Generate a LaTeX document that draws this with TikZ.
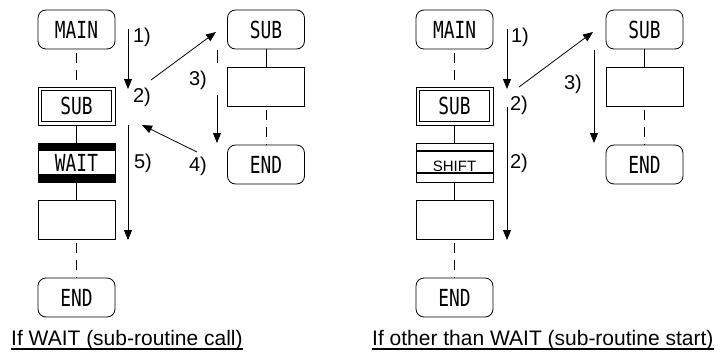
\documentclass[tikz,border=0pt]{standalone}
\usepackage{fontspec}
\setmainfont{Liberation Sans}
\newfontfamily\boxfont[FakeStretch=0.76]{DejaVu Sans Mono}
\usetikzlibrary{positioning,arrows.meta}

\begin{document}
\begin{tikzpicture}[x=1pt,y=-1pt,
  node distance=18pt,
  box/.style={draw,line width=0.8pt,inner sep=0pt,outer sep=0pt,
              minimum width=77pt,minimum height=39pt,
              font=\boxfont\fontsize{23.5}{23.5}\selectfont},
  term/.style={box,rounded corners=8pt},
  subcall/.style={box,minimum height=38pt,path picture={
      \draw[line width=0.8pt] ([shift={(3.5pt,-3.5pt)}]path picture bounding box.north west) rectangle ([shift={(-3.5pt,3.5pt)}]path picture bounding box.south east);}},
  waitbox/.style={box,path picture={
      \fill (path picture bounding box.north west) rectangle ([yshift=-8pt]path picture bounding box.north east);
      \fill ([yshift=8pt]path picture bounding box.south west) rectangle (path picture bounding box.south east);}},
  shiftbox/.style={box,font=\fontsize{15}{15}\selectfont,text height=17.5pt,path picture={
      \draw[line width=1.2pt] ([yshift=-8pt]path picture bounding box.north west) -- ([yshift=-8pt]path picture bounding box.north east);
      \draw[line width=1.2pt] ([yshift=9pt]path picture bounding box.south west) -- ([yshift=9pt]path picture bounding box.south east);}},
  link/.style={line width=0.8pt},
  dlink/.style={link,dash pattern=on 10pt off 7pt,dash phase=13pt},
  arr/.style={-{Triangle[length=10pt,width=8pt]},line width=0.8pt},
  lbl/.style={inner sep=0pt,font=\fontsize{20}{20}\selectfont},
  captxt/.style={inner sep=0pt,anchor=base west,font=\fontsize{21}{21}\selectfont},
  uline/.style={line width=1.5pt}
]
  \useasboundingbox (0,0) rectangle (725,351);

  \node[term] (mainA) at (76.5,29.5) {MAIN};
  \node[subcall,below=38pt of mainA] (subA) {SUB};
  \node[waitbox,below=of subA] (waitA) {WAIT};
  \node[box,below=of waitA] (procA) {};
  \node[term,below=39pt of procA] (endA) {END};
  \node[term] (subC) at (266,29.5) {SUB};
  \node[box,below=of subC] (procC) {};
  \node[term,below=39pt of procC] (endC) {END};

  \draw[dlink] (mainA) -- (subA);
  \draw[link] (subA) -- (waitA);
  \draw[link] (waitA) -- (procA);
  \draw[dlink] (procA) -- (endA);
  \draw[link] (subC) -- (procC);
  \draw[dlink] (procC) -- (endC);

  \coordinate (a1s) at (128,29);  \coordinate (a1e) at (128,89);
  \coordinate (a2s) at (151,80);  \coordinate (a2e) at (216,32);
  \coordinate (a3s) at (217,50);  \coordinate (a3m) at (217,63);
  \coordinate (a3n) at (217,95);  \coordinate (a3e) at (217,143);
  \coordinate (a4s) at (197,152); \coordinate (a4e) at (142,125);
  \coordinate (a5s) at (128,125); \coordinate (a5e) at (128,240);
  \draw[arr] (a1s) -- (a1e);
  \draw[arr] (a2s) -- (a2e);
  \draw[link] (a3s) -- (a3m);
  \draw[arr] (a3n) -- (a3e);
  \draw[arr] (a4s) -- (a4e);
  \draw[arr] (a5s) -- (a5e);

  \node[lbl] (l1) at (142,37) {1)};
  \node[lbl] (l2) at (142,97) {2)};
  \node[lbl] (l3) at (198,80) {3)};
  \node[lbl] (l4) at (198,166) {4)};
  \node[lbl] (l5) at (143,163) {5)};

  \node[term] (mainB) at (454.5,29.5) {MAIN};
  \node[subcall,below=38pt of mainB] (subB) {SUB};
  \node[shiftbox,below=of subB] (shiftB) {SHIFT};
  \node[box,below=of shiftB] (procB) {};
  \node[term,below=39pt of procB] (endB) {END};
  \node[term] (subD) at (644.5,29.5) {SUB};
  \node[box,below=of subD] (procD) {};
  \node[term,below=39pt of procD] (endD) {END};

  \draw[dlink] (mainB) -- (subB);
  \draw[link] (subB) -- (shiftB);
  \draw[link] (shiftB) -- (procB);
  \draw[dlink] (procB) -- (endB);
  \draw[link] (subD) -- (procD);
  \draw[dlink] (procD) -- (endD);

  \coordinate (b1s) at (507,29);  \coordinate (b1e) at (507,89);
  \coordinate (b2s) at (519,87);  \coordinate (b2e) at (593,32);
  \coordinate (b3s) at (594,50);  \coordinate (b3e) at (594,143);
  \coordinate (b5s) at (507,107); \coordinate (b5e) at (507,240);
  \draw[arr] (b1s) -- (b1e);
  \draw[arr] (b2s) -- (b2e);
  \draw[arr] (b3s) -- (b3e);
  \draw[arr] (b5s) -- (b5e);

  \node[lbl] (r1) at (520,37) {1)};
  \node[lbl] (r2) at (519,105) {2)};
  \node[lbl] (r3) at (573,84) {3)};
  \node[lbl] (r5) at (519,163) {2)};

  \node[captxt] (capA) at (11,345) {If WAIT (sub-routine call)};
  \node[captxt] (capB) at (372,345) {If other than WAIT (sub-routine start)};
  \draw[uline] ([yshift=-4pt]capA.base west) -- ([yshift=-4pt]capA.base east);
  \draw[uline] ([yshift=-4pt]capB.base west) -- ([yshift=-4pt]capB.base east);
\end{tikzpicture}
\end{document}
